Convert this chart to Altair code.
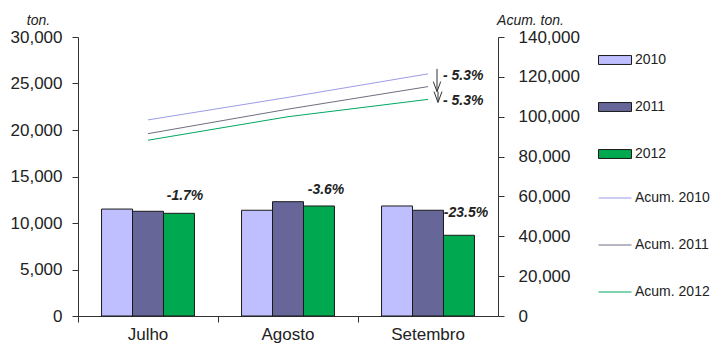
import altair as alt
import pandas as pd

months = ["Julho", "Agosto", "Setembro"]
years = ["2010", "2011", "2012"]
monthly_2010 = [11500, 11370, 11830]
monthly_2011 = [11260, 12290, 11370]
monthly_2012 = [11040, 11830, 8680]

acum_series = ["Acum. 2010", "Acum. 2011", "Acum. 2012"]
acum_2010 = [98400, 109700, 121500]
acum_2011 = [91500, 103800, 115100]
acum_2012 = [88200, 100000, 108700]

bar_change_labels = ["-1.7%", "-3.6%", "-23.5%"]
acum_change_labels = ["- 5.3%", "- 5.3%"]

bar_colors = ["#BFBFFF", "#666699", "#00A84F"]
line_colors = ["#9C9CE8", "#6E6E82", "#00A862"]

FONT = "Liberation Sans"
INK = "#222222"

bar_rows = []
for yr, vals in zip(years, [monthly_2010, monthly_2011, monthly_2012]):
    for m, v in zip(months, vals):
        bar_rows.append({"month": m, "year": yr, "value": v})
bar_df = pd.DataFrame(bar_rows)

line_rows = []
for s, vals in zip(acum_series, [acum_2010, acum_2011, acum_2012]):
    for m, v in zip(months, vals):
        line_rows.append({"month": m, "series": s, "value": v})
line_df = pd.DataFrame(line_rows)

x_scale = alt.Scale(paddingInner=0, paddingOuter=0)
x_axis = alt.Axis(title=None, labelAngle=0, bandPosition=0, tickSize=6,
                  labelPadding=4, labelFontSize=17)
yl_scale = alt.Scale(domain=[0, 30000])
yl_axis = alt.Axis(title="ton.", values=[0, 5000, 10000, 15000, 20000, 25000, 30000],
                   format=",d", grid=False, tickSize=6, labelPadding=10,
                   labelFontSize=17, titleAngle=0, titleAlign="center",
                   titleBaseline="bottom", titleX=-40, titleY=-10,
                   titleFontStyle="italic", titleFontWeight="normal", titleFontSize=14)
yr_scale = alt.Scale(domain=[0, 140000])
yr_axis = alt.Axis(orient="right", title="Acum. ton.",
                   values=[0, 20000, 40000, 60000, 80000, 100000, 120000, 140000],
                   format=",d", grid=False, tickSize=6, labelPadding=14,
                   labelFontSize=17, titleAngle=0, titleAlign="center",
                   titleBaseline="bottom", titleX=32, titleY=-10,
                   titleFontStyle="italic", titleFontWeight="normal", titleFontSize=14)

def X():
    return alt.X("month:N", sort=months, scale=x_scale, axis=x_axis)

bars = alt.Chart(bar_df).mark_bar(stroke="#1a1a1a", strokeWidth=1).encode(
    x=X(),
    xOffset=alt.XOffset("year:N", sort=years,
                        scale=alt.Scale(paddingInner=0, paddingOuter=0.76)),
    y=alt.Y("value:Q", scale=yl_scale, axis=yl_axis),
    fill=alt.Fill("year:N", scale=alt.Scale(domain=years, range=bar_colors),
                  legend=alt.Legend(title=None, symbolType="M-1,-0.27H1V0.27H-1Z",
                                    symbolStrokeColor="#1a1a1a", symbolStrokeWidth=1,
                                    symbolSize=1089, symbolOpacity=1)),
)

bar_layers = [bars]
bar_offsets = [(37, -17), (38, -16), (38, -22)]
for m, v, t, (ddx, ddy) in zip(months, monthly_2012, bar_change_labels, bar_offsets):
    d = pd.DataFrame({"month": [m], "value": [v], "label": [t]})
    bar_layers.append(
        alt.Chart(d).mark_text(font=FONT, fontSize=14, fontWeight="bold", fontStyle="italic",
                               color=INK, dx=ddx, dy=ddy, align="center", baseline="middle")
        .encode(x=X(), y=alt.Y("value:Q", scale=yl_scale, axis=yl_axis), text="label:N")
    )
left = alt.layer(*bar_layers)

lines = alt.Chart(line_df).mark_line(strokeWidth=1).encode(
    x=X(),
    y=alt.Y("value:Q", scale=yr_scale, axis=yr_axis),
    stroke=alt.Stroke("series:N", scale=alt.Scale(domain=acum_series, range=line_colors),
                      legend=alt.Legend(title=None, symbolType="stroke", symbolSize=1089,
                                        symbolStrokeWidth=1)),
)

arrow_df = pd.DataFrame({
    "month": ["Setembro", "Setembro"],
    "top": [acum_2010[2], acum_2011[2]],
    "bottom": [acum_2011[2], acum_2012[2]],
})
arrow1 = alt.Chart(arrow_df.iloc[[0]]).mark_rule(color="#333333", strokeWidth=1, xOffset=9,
                                                  yOffset=-5, y2Offset=5).encode(
    x=X(), y=alt.Y("top:Q", scale=yr_scale, axis=yr_axis), y2="bottom:Q")
head1 = alt.Chart(arrow_df.iloc[[0]]).mark_point(shape="M-1,-2.7L0,0L1,-2.7", filled=False,
                                                  size=55, strokeWidth=1, color="#333333",
                                                  opacity=1, xOffset=9, yOffset=5).encode(
    x=X(), y=alt.Y("bottom:Q", scale=yr_scale, axis=yr_axis))
arrow2 = alt.Chart(arrow_df.iloc[[1]]).mark_rule(color="#333333", strokeWidth=1, xOffset=10,
                                                  yOffset=5, y2Offset=3).encode(
    x=X(), y=alt.Y("top:Q", scale=yr_scale, axis=yr_axis), y2="bottom:Q")
head2 = alt.Chart(arrow_df.iloc[[1]]).mark_point(shape="M-1,-2.7L0,0L1,-2.7", filled=False,
                                                  size=64, strokeWidth=1, color="#333333",
                                                  opacity=1, xOffset=10, yOffset=3).encode(
    x=X(), y=alt.Y("bottom:Q", scale=yr_scale, axis=yr_axis))

acum_text_df = pd.DataFrame({
    "month": ["Setembro", "Setembro"],
    "value": [acum_2010[2], acum_2012[2]],
    "label": acum_change_labels,
})
acum_texts = alt.Chart(acum_text_df).mark_text(
    font=FONT, fontSize=14, fontWeight="bold", fontStyle="italic", color=INK,
    align="left", baseline="middle", dx=15, dy=2
).encode(x=X(), y=alt.Y("value:Q", scale=yr_scale, axis=yr_axis), text="label:N")

right = alt.layer(lines, arrow1, head1, arrow2, head2, acum_texts)

chart = alt.layer(left, right).resolve_scale(y="independent").properties(
    width=420, height=279,
    autosize=alt.AutoSizeParams(type="none"),
    padding={"left": 70, "top": 29, "right": 217, "bottom": 29},
).configure_view(stroke=None).configure_axis(
    domainColor="#333333", tickColor="#333333", labelColor=INK, titleColor=INK,
    labelFont=FONT, titleFont=FONT,
).configure_legend(
    orient="right", offset=12, labelFont=FONT, labelFontSize=14, labelColor=INK,
    rowPadding=23, padding=6, labelOffset=3,
)

chart.save("out.html", embed_options={"renderer": "svg", "actions": False})
